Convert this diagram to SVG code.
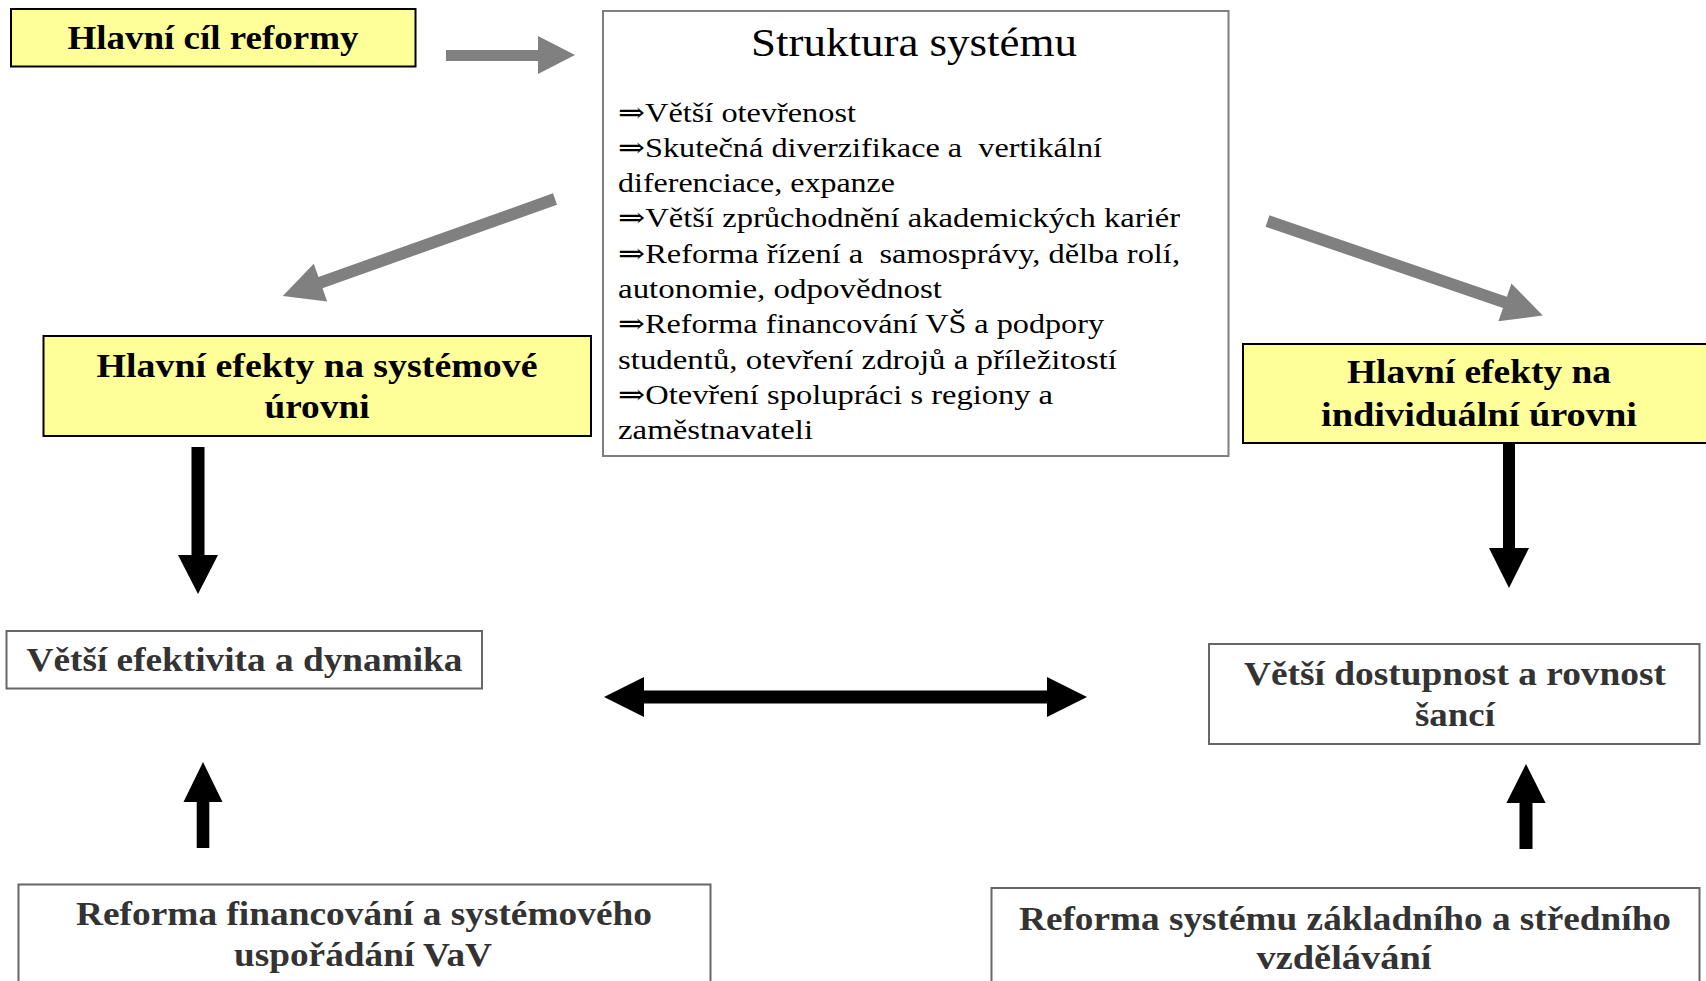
<svg xmlns="http://www.w3.org/2000/svg" width="1706" height="981" viewBox="0 0 1706 981">
<style>
.bg{fill:#ffffff}
.ybox{fill:#ffff99;stroke:#000000;stroke-width:2}
.wbox{fill:#ffffff;stroke:#666666;stroke-width:2}
.sbox{fill:#ffffff;stroke:#7f7f7f;stroke-width:2}
.lbl{font-family:"Liberation Serif","Times New Roman",serif;font-weight:bold;font-size:33px;fill:#000000;text-anchor:middle}
.lbl2{font-family:"Liberation Serif","Times New Roman",serif;font-weight:bold;font-size:33px;fill:#333333;text-anchor:middle}
.title{font-family:"Liberation Serif","Times New Roman",serif;font-size:40px;fill:#000000;text-anchor:middle}
.item{font-family:"Liberation Serif","DejaVu Serif",serif;font-size:28px;fill:#000000}
.garrow{fill:#808080}
.barrow{fill:#000000}
</style>
<rect class="bg" x="0" y="0" width="1706" height="981"/>

<g id="connectors">
  <polygon class="garrow" points="446,50 538,50 538,36 575,55 538,74 538,61 446,61"/>
  <polygon class="garrow" transform="translate(555,199) rotate(160.37)" points="0,-6 249,-6 249,-20 289,0 249,20 249,6 0,6"/>
  <polygon class="garrow" transform="translate(1267.5,221) rotate(18.93)" points="0,-6 251,-6 251,-20 291,0 251,20 251,6 0,6"/>
  <polygon class="barrow" points="191.5,447 204.5,447 204.5,555 218,555 198,594 178,555 191.5,555"/>
  <polygon class="barrow" points="1503,439 1515,439 1515,548 1529,548 1509,588 1489,548 1503,548"/>
  <polygon class="barrow" points="604,697 644,677 644,690.5 1047,690.5 1047,677 1087,697 1047,717 1047,703.5 644,703.5 644,717"/>
  <polygon class="barrow" points="196.7,848 209.3,848 209.3,802 222.5,802 203,762 183.5,802 196.7,802"/>
  <polygon class="barrow" points="1519.5,849 1532.5,849 1532.5,803 1545.6,803 1526,764 1506.4,803 1519.5,803"/>
</g>

<g id="node-cil">
  <rect class="ybox" x="11" y="9" width="404.5" height="57.5"/>
  <text class="lbl" x="213" y="49" textLength="291" lengthAdjust="spacingAndGlyphs">Hlavní cíl reformy</text>
</g>

<g id="node-struktura">
  <rect class="sbox" x="603" y="11" width="625.5" height="445"/>
  <text class="title" x="914" y="56" textLength="326" lengthAdjust="spacingAndGlyphs">Struktura systému</text>
  <text class="item" x="618" y="121.5" textLength="238" lengthAdjust="spacingAndGlyphs">⇒Větší otevřenost</text>
  <text class="item" x="618" y="156.8" textLength="484" lengthAdjust="spacingAndGlyphs" xml:space="preserve">⇒Skutečná diverzifikace a  vertikální</text>
  <text class="item" x="618" y="192.1" textLength="277" lengthAdjust="spacingAndGlyphs">diferenciace, expanze</text>
  <text class="item" x="618" y="227.4" textLength="562" lengthAdjust="spacingAndGlyphs">⇒Větší zprůchodnění akademických kariér</text>
  <text class="item" x="618" y="262.7" textLength="562" lengthAdjust="spacingAndGlyphs" xml:space="preserve">⇒Reforma řízení a  samosprávy, dělba rolí,</text>
  <text class="item" x="618" y="298" textLength="324" lengthAdjust="spacingAndGlyphs">autonomie, odpovědnost</text>
  <text class="item" x="618" y="333.3" textLength="486" lengthAdjust="spacingAndGlyphs">⇒Reforma financování VŠ a podpory</text>
  <text class="item" x="618" y="368.6" textLength="499" lengthAdjust="spacingAndGlyphs">studentů, otevření zdrojů a příležitostí</text>
  <text class="item" x="618" y="403.9" textLength="435" lengthAdjust="spacingAndGlyphs">⇒Otevření spolupráci s regiony a</text>
  <text class="item" x="618" y="439.2" textLength="195" lengthAdjust="spacingAndGlyphs">zaměstnavateli</text>
</g>

<g id="node-system-efekty">
  <rect class="ybox" x="43.5" y="336" width="547.5" height="100"/>
  <text class="lbl" x="317" y="376.5" textLength="441" lengthAdjust="spacingAndGlyphs">Hlavní efekty na systémové</text>
  <text class="lbl" x="317" y="418" textLength="105" lengthAdjust="spacingAndGlyphs">úrovni</text>
</g>

<g id="node-individualni-efekty">
  <rect class="ybox" x="1243" y="344" width="470" height="99"/>
  <text class="lbl" x="1479" y="383" textLength="264" lengthAdjust="spacingAndGlyphs">Hlavní efekty na</text>
  <text class="lbl" x="1479" y="426" textLength="316" lengthAdjust="spacingAndGlyphs">individuální úrovni</text>
</g>

<g id="node-efektivita">
  <rect class="wbox" x="6.5" y="631" width="475.5" height="57.5"/>
  <text class="lbl2" x="244.5" y="671" textLength="436" lengthAdjust="spacingAndGlyphs">Větší efektivita a dynamika</text>
</g>

<g id="node-dostupnost">
  <rect class="wbox" x="1209" y="644" width="490.5" height="100"/>
  <text class="lbl2" x="1455" y="685" textLength="422" lengthAdjust="spacingAndGlyphs">Větší dostupnost a rovnost</text>
  <text class="lbl2" x="1455" y="726" textLength="80" lengthAdjust="spacingAndGlyphs">šancí</text>
</g>

<g id="node-vav">
  <rect class="wbox" x="18.5" y="884.5" width="692" height="110"/>
  <text class="lbl2" x="364" y="925" textLength="576" lengthAdjust="spacingAndGlyphs">Reforma financování a systémového</text>
  <text class="lbl2" x="363" y="966" textLength="258" lengthAdjust="spacingAndGlyphs">uspořádání VaV</text>
</g>

<g id="node-skolstvi">
  <rect class="wbox" x="991.5" y="888" width="708" height="110"/>
  <text class="lbl2" x="1345" y="930" textLength="652" lengthAdjust="spacingAndGlyphs">Reforma systému základního a středního</text>
  <text class="lbl2" x="1344" y="969" textLength="175" lengthAdjust="spacingAndGlyphs">vzdělávání</text>
</g>
</svg>
